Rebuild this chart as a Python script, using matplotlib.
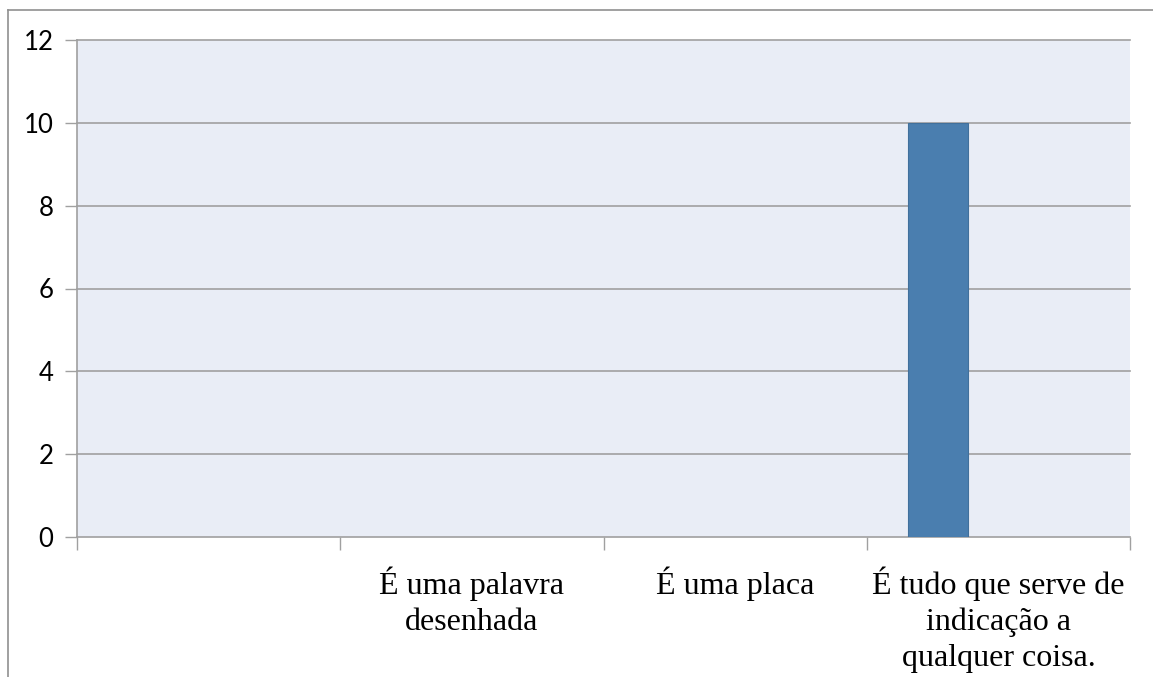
import matplotlib.pyplot as plt
from matplotlib.lines import Line2D

categories = ["", "É uma palavra\ndesenhada", "É uma placa",
              "É tudo que serve de\nindicação a\nqualquer coisa."]
values = [0, 0, 0, 10]
yticks = [0, 2, 4, 6, 8, 10, 12]

W, H = 1153, 677
fig = plt.figure(figsize=(W / 100, H / 100), dpi=100)
ax = fig.add_axes([77 / W, 1 - 537 / H, (1130 - 77) / W, (537 - 40) / H])

ax.set_facecolor("#E9EDF6")
grid_c = "#A0A0A0"

# bars sit left of centre (first of three series slots)
bw = 0.228
xs = [i + 0.5 - bw for i in range(len(values))]
for x, v in zip(xs, values):
    if v > 0:
        ax.bar(x, v, width=bw, color="#4A7EAF", edgecolor="#41709C",
               linewidth=0.8, zorder=3)

ax.set_xlim(0, len(categories))
ax.set_ylim(0, 12)
ax.set_yticks(yticks)
ax.set_yticklabels([str(t) for t in yticks], family="Lato", fontsize=18.5)
for t in yticks[1:]:
    ax.axhline(t, color=grid_c, linewidth=1.2, zorder=1, clip_on=False)

ax.set_xticks(range(len(categories) + 1))
ax.set_xticklabels([])
ax.set_xticks([i + 0.5 for i in range(len(categories))], minor=True)
ax.set_xticklabels(categories, minor=True, family="Liberation Serif",
                   fontsize=23, linespacing=1.32)
ax.tick_params(axis="x", which="minor", length=0, pad=21)
ax.tick_params(axis="x", which="major", length=9, color=grid_c, width=1)
ax.tick_params(axis="y", length=9, color=grid_c, width=1, pad=8)

for s in ["top", "right"]:
    ax.spines[s].set_visible(False)
for s in ["left", "bottom"]:
    ax.spines[s].set_color(grid_c)
    ax.spines[s].set_linewidth(1.2)

# outer chart frame (partially cropped)
fig.add_artist(Line2D([8 / W, 1], [1 - 10 / H, 1 - 10 / H], color="#909090", lw=1.2))
fig.add_artist(Line2D([8 / W, 8 / W], [0, 1 - 10 / H], color="#909090", lw=1.2))

fig.savefig("out.png", dpi=100)
